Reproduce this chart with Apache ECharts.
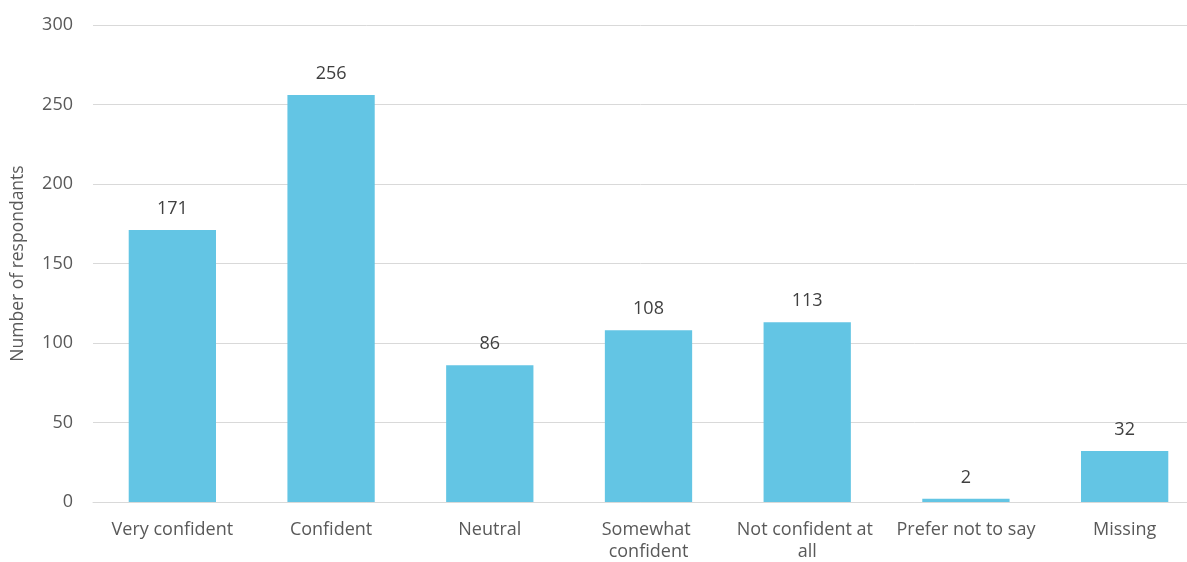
<!DOCTYPE html>
<html><head><meta charset="utf-8">
<script src="https://cdn.jsdelivr.net/npm/echarts@6/dist/echarts.min.js"></script>
<style>html,body{margin:0;padding:0;background:#fff;overflow:hidden}#c{width:1187px;height:562px}</style>
</head><body><div id="c"></div>
<script>
const categories = ['Very confident','Confident','Neutral','Somewhat confident','Not confident at all','Prefer not to say','Missing'];
const values = [171,256,86,108,113,2,32];
const yTicks = {min:0,max:300,interval:50};
const yName = 'Number of respondants';
const FONT = '"Open Sans", sans-serif';
const chart = echarts.init(document.getElementById('c'));
chart.setOption({
  animation:false,
  grid:{left:93,right:-17,top:25,bottom:60,containLabel:false,outerBoundsMode:'none'},
  xAxis:{type:'category',data:categories,
    axisLine:{lineStyle:{color:'#d9d9d9',width:1}},
    axisTick:{show:false},
    axisLabel:{color:'#595959',fontFamily:FONT,fontSize:18,margin:17,interval:0,width:156,overflow:'break',lineHeight:22}},
  yAxis:{type:'value',min:yTicks.min,max:yTicks.max,interval:yTicks.interval,
    name:yName,nameLocation:'middle',nameRotate:90,nameGap:66,
    nameTextStyle:{color:'#595959',fontFamily:FONT,fontSize:17.5},
    axisLine:{show:false},axisTick:{show:false},
    axisLabel:{color:'#595959',fontFamily:FONT,fontSize:18,margin:20},
    splitLine:{lineStyle:{color:'#d9d9d9',width:1}}},
  series:[{type:'bar',data:values,barWidth:'55%',
    itemStyle:{color:'#63C5E4'},
    label:{show:true,position:'top',distance:12,color:'#404040',fontFamily:FONT,fontSize:18}}]
});
</script></body></html>
